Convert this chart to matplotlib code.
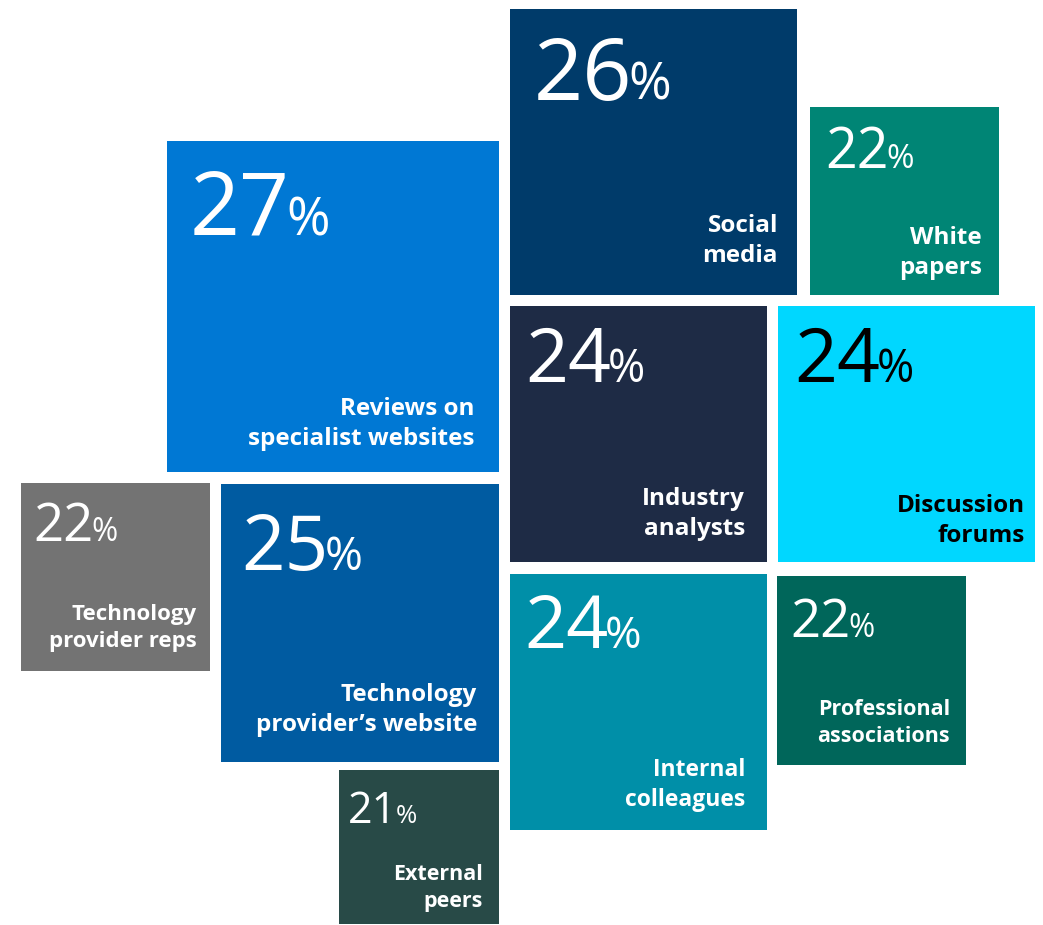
import matplotlib
matplotlib.use("Agg")
import matplotlib.pyplot as plt
from matplotlib.patches import Rectangle

# data
sources = ["Reviews on\nspecialist websites", "Social\nmedia", "White\npapers",
           "Industry\nanalysts", "Discussion\nforums", "Technology\nprovider reps",
           "Technology\nprovider\u2019s website", "Internal\ncolleagues",
           "Professional\nassociations", "External\npeers"]
shares = [27, 26, 22, 24, 24, 22, 25, 24, 22, 21]

# layout in pixels: box (x0, y0, x1, y1), number anchor, number size, label anchor, label size
boxes = [(167, 141, 499, 472), (510, 9, 797, 295), (810, 107, 999, 295),
         (510, 306, 767, 562), (778, 306, 1035, 562), (21, 483, 210, 671),
         (221, 484, 499, 762), (510, 574, 767, 830), (777, 576, 966, 765),
         (339, 770, 499, 924)]
num_pos = [(190, 235), (534, 100), (825, 168), (525, 382), (794, 382),
           (33, 541), (241, 570), (524, 648), (790, 637), (348, 823)]
num_size = [63, 62, 40, 54, 54, 38, 55, 53, 38, 31]
lab_pos = [(474, 424), (778, 241), (982, 253), (745, 514), (1025, 521),
           (197, 628), (477, 710), (745, 785), (950, 723), (483, 888)]
lab_size = [17.5, 17.5, 17.5, 17.5, 17.5, 16, 17.5, 16.5, 15.5, 15.5]
colors = ["#0078D4", "#003B6A", "#008575", "#1E2B45", "#00D7FF",
          "#737373", "#005BA1", "#008FA8", "#00665A", "#284A47"]
text_colors = ["white"] * 4 + ["black"] + ["white"] * 5

plt.rcParams['font.family'] = ['Open Sans', 'Noto Sans', 'DejaVu Sans']

fig = plt.figure(figsize=(10.43, 9.25), dpi=100)
ax = fig.add_axes([0, 0, 1, 1])
ax.set_xlim(0, 1043)
ax.set_ylim(925, 0)
ax.axis("off")

nums = []
for i in range(len(shares)):
    x0, y0, x1, y1 = boxes[i]
    ax.add_patch(Rectangle((x0, y0), x1 - x0, y1 - y0, color=colors[i], lw=0))
    t = ax.text(num_pos[i][0], num_pos[i][1], str(shares[i]), fontsize=num_size[i],
                color=text_colors[i], ha="left", va="baseline")
    nums.append(t)
    ax.text(lab_pos[i][0], lab_pos[i][1], sources[i], fontsize=lab_size[i],
            fontweight="bold", color=text_colors[i], ha="right", va="center",
            multialignment="right", linespacing=1.35)

# put the smaller % sign right after each number
fig.canvas.draw()
r = fig.canvas.get_renderer()
for i, t in enumerate(nums):
    bb = t.get_window_extent(renderer=r)
    xr = ax.transData.inverted().transform((bb.x1, bb.y0))[0]
    ax.text(xr - num_size[i] * 0.06, num_pos[i][1], "%", fontsize=num_size[i] * 0.6,
            color=text_colors[i], ha="left", va="baseline")

fig.savefig("out.png", dpi=100)
